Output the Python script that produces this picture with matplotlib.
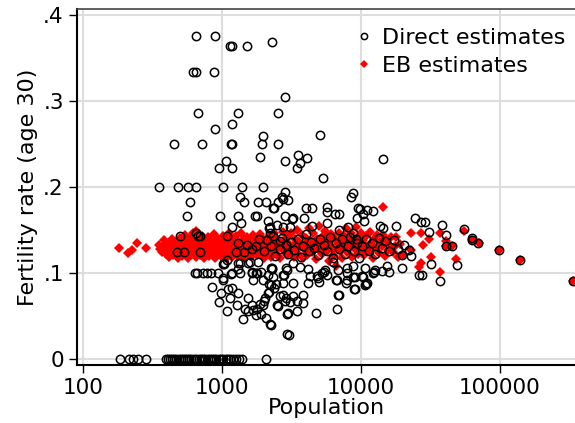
import matplotlib
matplotlib.use('Agg')
import matplotlib.pyplot as plt
from matplotlib.ticker import FixedLocator, FixedFormatter, NullLocator

# direct estimates (population, fertility rate at age 30)
direct_pop = [
    650, 890, 1150, 1175, 1510, 2290, 620, 650, 870, 2840, 670, 1300, 2530, 890, 1180,
    452, 718, 1160, 1190, 1940, 2530, 1980, 1880, 2840, 950, 1070, 1180, 5060, 3530, 3630,
    3470, 4100, 5320, 14400,
    352, 482, 570, 650, 1020, 1390, 1980,
    590, 1350, 1440, 1810, 2070, 2370, 2530, 2750, 2840, 8800, 8500, 2700, 2990, 2330,
    4030, 4440, 5660, 5740, 6500, 7000, 9800, 10300, 12200, 1730, 2840, 3240, 3900, 9400,
    560, 970, 1300, 1370, 1180, 2130, 1780, 11000, 9500, 2220, 2500, 2750, 3100, 4440,
    5660, 7000, 8060, 8800, 9200, 2180, 2330, 2620, 3180, 24500, 27000, 29000, 31000,
    38000, 40600, 54900, 63000, 18000, 13700, 14300, 10500,
    500, 650, 670, 1090, 475, 530, 700, 1260, 1440, 1510, 1760, 690,
    2000, 2100, 2250, 2400, 2600, 2700, 2900, 3000, 3150, 3300, 3500, 3700, 3850, 4000,
    4200, 4400, 4600, 4900, 5100, 5400, 5700, 6000, 6300, 6600, 6900, 7300, 7700, 8000,
    8400, 8900, 9300, 9700, 10200, 10800, 11400, 12000, 12700, 13500, 14200, 15000, 16000,
    17200, 18500, 19700, 20500, 22000, 1300, 1650, 1850, 2200,
    41000, 45000, 63000, 70000, 99000, 140000, 335000,
    1090, 1300, 1540, 660, 730, 780, 840, 930, 1020, 1180, 1350, 1300, 640, 1010, 1030,
    1160, 1640, 1760, 1010, 1040, 2250, 2330, 2750, 2940, 2750, 3240, 4150, 4800, 5200,
    4960, 6600, 7960, 7800, 9100, 9100, 10100, 10900, 12400, 12700, 1350, 1590, 1810,
    1640, 1910, 2300, 2880, 3240, 3630, 4150, 4280, 5400, 5740, 5500, 4880, 6300, 6700,
    7960, 8800, 10300, 10700, 7960, 8800, 6800, 2250, 2450, 14200, 15900, 15400, 12200,
    11000, 19700, 23000, 26000, 27500, 37000, 31800, 49000, 1980, 1670, 1800, 2180, 2130,
    2790, 2290,
    850, 980, 1110, 950, 1140, 1300, 1090, 1280, 1460, 1530, 1420, 1640, 1670, 1790, 1880,
    1980, 2070, 1910, 1760, 2250, 2030, 2180, 2370, 2620, 2530, 2880, 2940, 2940, 2130,
    2220, 2750, 2840, 3240, 3450, 3100, 3830, 3830, 3450, 2990, 2500, 6900, 6700, 4740,
    8900, 6800, 10700, 3030, 1180, 1530, 1990,
    184, 214, 229, 248, 284, 395, 410, 425, 440, 455, 470, 490, 505, 520, 540, 560, 580,
    600, 625, 650, 680, 705, 730, 760, 790, 820, 850, 880, 910, 950, 985, 1020, 1060, 1100,
    1150, 1200, 1260, 1320, 1400, 2070,
]
direct_rate = [
    .375, .375, .364, .364, .364, .369, .334, .334, .334, .305, .286, .286, .286, .267, .273,
    .25, .25, .25, .25, .25, .25, .259, .235, .230, .222, .230, .222, .26, .237, .228,
    .222, .234, .21, .233,
    .2, .2, .2, .2, .2, .2, .2,
    .183, .188, .183, .183, .183, .176, .183, .186, .194, .193, .188, .188, .185, .176,
    .176, .176, .177, .171, .169, .169, .174, .169, .172, .166, .166, .164, .164, .164,
    .166, .166, .166, .158, .153, .161, .166, .173, .176, .154, .156, .154, .154, .155,
    .158, .150, .154, .147, .140, .152, .143, .137, .163, .164, .159, .159, .148,
    .156, .144, .151, .141, .155, .155, .152, .160,
    .143, .146, .143, .143, .124, .124, .124, .124, .124, .133, .131, .143,
    .125, .138, .131, .120, .128, .141, .133, .122, .136, .127, .140, .119, .131, .145,
    .125, .136, .129, .121, .140, .133, .126, .142, .118, .135, .128, .139, .122, .131,
    .142, .126, .135, .118, .131, .140, .126, .135, .122, .141, .129, .137, .125,
    .138, .128, .121, .133, .127, .135, .128, .140, .146,
    .131, .131, .138, .135, .127, .115, .091,
    .115, .112, .112, .1, .1, .1, .1, .1, .094, .1, .1, .105, .1, .111, .111,
    .099, .1, .1, .092, .112, .106, .095, .098, .104, .088, .088, .088, .097, .1,
    .09, .092, .1, .088, .095, .081, .096, .087, .101, .103, .112, .113, .113,
    .101, .101, .106, .106, .112, .107, .105, .097, .101, .098, .104, .094, .113, .092,
    .092, .095, .095, .106, .106, .108, .104, .086, .087, .102, .101, .108, .100,
    .088, .106, .120, .098, .098, .091, .110, .109, .092, .092, .100, .087, .098,
    .098, .105,
    .084, .077, .081, .066, .071, .077, .056, .063, .058, .056, .047, .063, .057, .058, .064,
    .063, .048, .052, .051, .040, .071, .078, .083, .073, .062, .071, .052, .029, .077,
    .041, .074, .068, .073, .068, .066, .074, .065, .056, .053, .063, .075, .058, .053,
    .081, .074, .086, .028, .083, .071, .067,
    0, 0, 0, 0, 0, 0, 0, 0, 0, 0, 0, 0, 0, 0, 0, 0, 0,
    0, 0, 0, 0, 0, 0, 0, 0, 0, 0, 0, 0, 0, 0, 0, 0, 0,
    0, 0, 0, 0, 0, 0,
]

# empirical Bayes estimates
eb_pop = [
    181, 211, 225, 245, 284,
    350, 360, 370, 380, 385, 395, 400, 410, 415, 420, 430, 440, 445, 455, 460, 470, 480,
    485, 495, 500, 510, 515, 525, 530, 540, 545, 555, 560, 570, 575, 585, 590, 600, 610,
    620, 630, 640, 645, 655, 660,
    670, 680, 690, 700, 710, 720, 730, 740, 750, 760, 770, 785, 795, 805, 815, 825, 840,
    850, 860, 870, 885, 895, 910, 920, 935, 950, 960, 975, 990, 1000, 1015, 1030, 1045,
    1060, 1075, 1090, 1110, 1125, 1140, 1160, 1175, 1190, 1210,
    1230, 1250, 1270, 1290, 1310, 1330, 1350, 1375, 1395, 1420, 1440, 1465, 1490, 1510,
    1540, 1565, 1590, 1620, 1650, 1675, 1700, 1730, 1760, 1790, 1820, 1850, 1880, 1910,
    1950, 1980, 2020, 2050, 2090, 2120, 2160, 2200, 2240, 2280, 2320, 2360, 2400, 2450,
    2490, 2540, 2580, 2630, 2680, 2730, 2780, 2830, 2880, 2930, 2990,
    3050, 3100, 3160, 3220, 3280, 3340, 3400, 3470, 3530, 3600, 3670, 3740, 3810, 3880,
    3960, 4040, 4120, 4200, 4280, 4360, 4450, 4540, 4630, 4720, 4820, 4920, 5020, 5120,
    5220, 5330, 5440, 5550, 5660, 5770, 5890, 6010, 6130, 6260, 6380, 6510, 6640, 6780,
    6920, 7060, 7200, 7350, 7500, 7650, 7810, 7970, 8130, 8300, 8470, 8640, 8820, 9000,
    9180, 9370, 9560, 9750, 9950,
    10150, 10400, 10600, 10850, 11100, 11350, 11600, 11900, 12200, 12500, 12800, 13100,
    13400, 13800, 14100, 14400, 14400, 14800, 15200, 15600, 16000, 16500, 17000, 17600,
    18000, 18600, 19200, 20000,
    23000, 23000, 26000, 27000, 27000, 28000, 31000, 31800, 37000, 37000, 40600, 41000,
    45000, 48400, 54900, 63000, 71000, 99000, 140000, 335000,
]
eb_rate = [
    .129, .123, .127, .135, .129,
    .133, .128, .124, .138, .131, .122, .127, .135, .119, .130, .125, .140, .121, .132,
    .127, .136, .118, .129, .124, .141, .131, .120, .135, .126, .144, .122, .129, .137,
    .118, .133, .125, .140, .121, .130, .146, .127, .136, .119, .149, .132,
    .124, .139, .128, .121, .134, .143, .126, .118, .131, .138, .124, .129, .142, .120,
    .133, .127, .137, .122, .131, .145, .126, .118, .134, .129, .140, .123, .131, .136,
    .120, .128, .143, .125, .133, .118, .138, .129, .122, .147, .134, .126, .140, .119,
    .131,
    .137, .124, .143, .128, .120, .135, .130, .146, .123, .133, .139, .118, .127, .142,
    .131, .124, .137, .129, .120, .144, .133, .126, .139, .121, .135, .129, .145, .123,
    .132, .140, .117, .128, .136, .124, .142, .131, .119, .138, .127, .146, .133, .122,
    .140, .129, .136, .118, .131, .148, .125, .138, .130, .121, .143,
    .134, .126, .147, .131, .119, .139, .128, .150, .122, .136, .131, .144, .117, .133,
    .127, .141, .121, .152, .130, .137, .124, .146, .133, .116, .140, .128, .155, .135,
    .122, .143, .131, .149, .126, .138, .114, .133, .145, .128, .120, .139, .108, .134,
    .147, .125, .137, .118, .143, .130, .152, .124, .139, .133, .146, .119, .136, .128,
    .153, .141, .122, .134, .147,
    .127, .138, .121, .143, .131, .125, .148, .134, .118, .139, .129, .144, .123, .136,
    .131, .177, .144, .120, .138, .127, .133, .142, .124, .131, .142, .119, .134, .121,
    .147, .127, .107, .112, .147, .133, .140, .119, .147, .101, .137, .131, .131, .116,
    .149, .138, .135, .127, .115, .091,
]

yticks = [0, .1, .2, .3, .4]
ytick_labels = ['0', '.1', '.2', '.3', '.4']
xticks = [100, 1000, 10000, 100000]
xtick_labels = ['100', '1000', '10000', '100000']

plt.rcParams['font.family'] = 'DejaVu Sans'

fig = plt.figure(figsize=(5.75, 4.23), dpi=100)
ax = fig.add_axes([0.134, 0.137, 0.866, 0.842])

ax.plot(eb_pop, eb_rate, linestyle='none', marker='D', markersize=5,
        color='#ff0000', markeredgewidth=0, label='EB estimates', zorder=2)
ax.plot(direct_pop, direct_rate, linestyle='none', marker='o', markersize=6,
        markerfacecolor='none', markeredgecolor='black', markeredgewidth=1.1,
        label='Direct estimates', zorder=3)

ax.set_xscale('log')
ax.set_xlim(90.6, 346700)
ax.set_ylim(-0.007, 0.407)

ax.xaxis.set_major_locator(FixedLocator(xticks))
ax.xaxis.set_major_formatter(FixedFormatter(xtick_labels))
ax.xaxis.set_minor_locator(NullLocator())
ax.yaxis.set_major_locator(FixedLocator(yticks))
ax.yaxis.set_major_formatter(FixedFormatter(ytick_labels))

ax.grid(True, color='#dddddd', linewidth=1.5, zorder=0)
ax.set_axisbelow(True)
ax.tick_params(axis='both', labelsize=15.5, length=6, width=1, direction='out')

ax.spines['right'].set_visible(False)
ax.spines['top'].set_color('#444444')
ax.spines['top'].set_linewidth(1.2)
ax.spines['left'].set_linewidth(1.5)
ax.spines['bottom'].set_linewidth(1.5)

ax.set_xlabel('Population', fontsize=16, labelpad=0)
ax.set_ylabel('Fertility rate (age 30)', fontsize=16, labelpad=4)

# legend: direct first, no frame, top right inside the plot
handles, labels = ax.get_legend_handles_labels()
ax.legend(handles[::-1], labels[::-1], loc='upper left', bbox_to_anchor=(0.546, 0.972),
          frameon=False, fontsize=16, markerscale=0.75, handlelength=0.6,
          handletextpad=0.5, labelspacing=0.35, borderaxespad=0)

fig.savefig('out.png', dpi=100)
